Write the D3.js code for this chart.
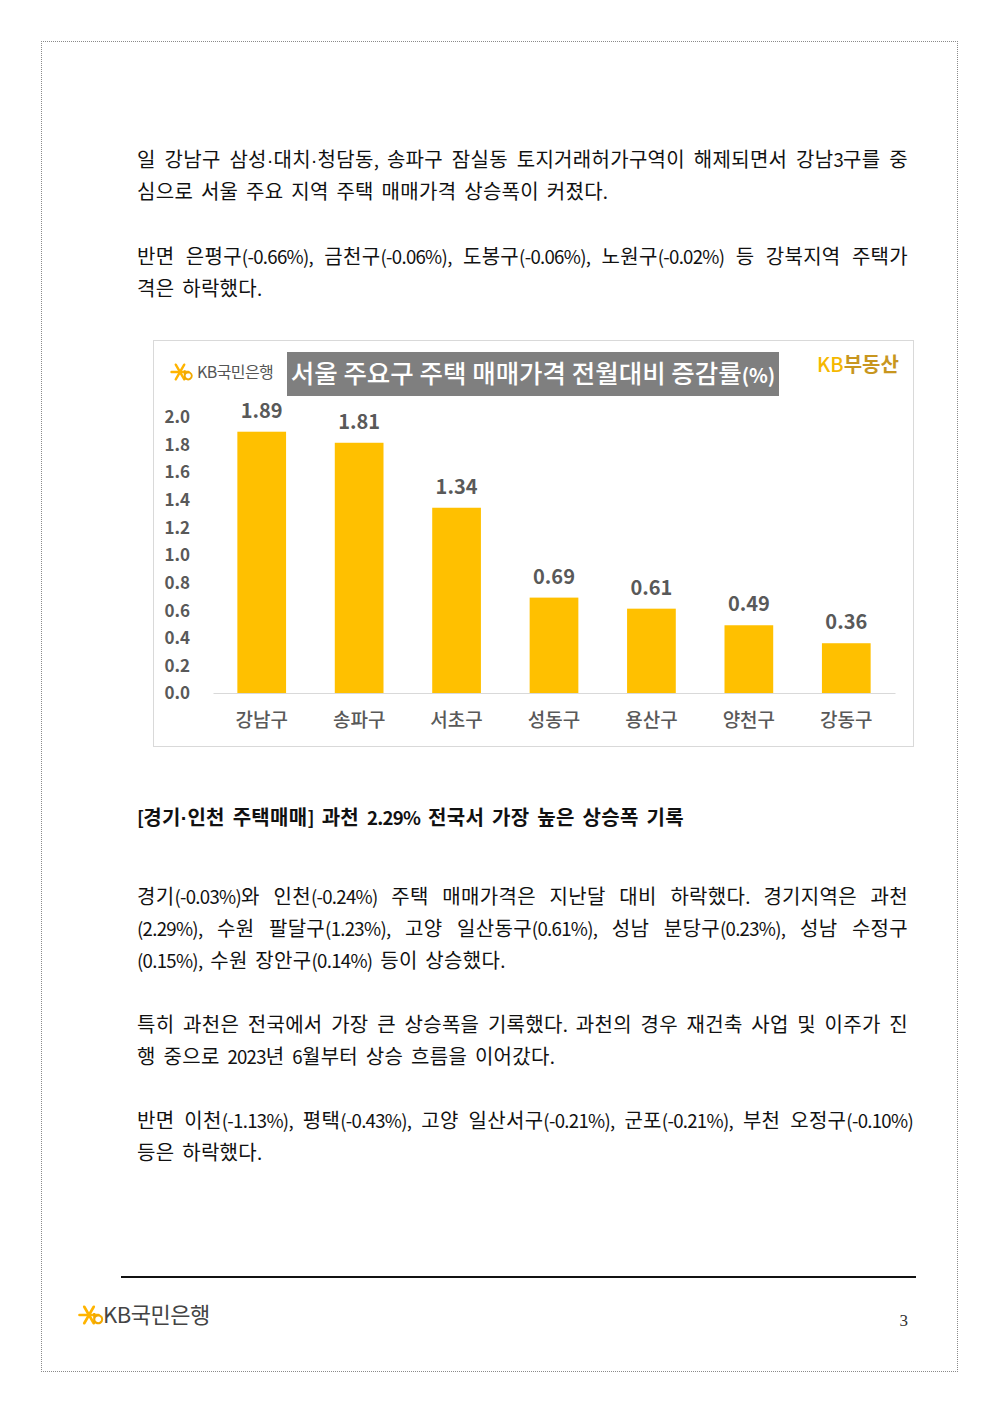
<!DOCTYPE html>
<html>
<head>
<meta charset="utf-8">
<script src="https://cdn.jsdelivr.net/npm/d3@7"></script>
<style>
  html, body { margin: 0; padding: 0; background: #fff; }
  #page { position: relative; width: 1000px; height: 1414px; overflow: hidden;
          font-family: "Noto Sans CJK KR", "Noto Sans", sans-serif; color: #111; }
  #border { position: absolute; left: 41px; top: 41px; width: 917px; height: 1331px;
            border: 1px dotted #8a8a8a; box-sizing: border-box; }
  .ln { position: absolute; left: 137px; height: 32px; line-height: 32px;
        font-size: 20px; white-space: nowrap; letter-spacing: 0.3px; word-spacing: 3px; }
  .h { font-weight: 700; }
  .lat { font-size: 0.93em; letter-spacing: -0.7px; }
  .md { font-family: "Liberation Sans", sans-serif; letter-spacing: 0; }
  svg { position: absolute; left: 0; top: 0; }
</style>
</head>
<body>
<div id="page">
  <div id="border"></div>
  <div id="text"></div>
  <svg id="chart" width="1000" height="1414"></svg>
</div>
<script>
// ---------- data ----------
const categories = ["강남구", "송파구", "서초구", "성동구", "용산구", "양천구", "강동구"];
const values = [1.89, 1.81, 1.34, 0.69, 0.61, 0.49, 0.36];
const tickValues = [0.0, 0.2, 0.4, 0.6, 0.8, 1.0, 1.2, 1.4, 1.6, 1.8, 2.0];
const chartTitle = "서울 주요구 주택 매매가격 전월대비 증감률";
const chartTitleUnit = "(%)";

// paragraph lines: [text, centerY, justify, bold, width]
const textLines = [
  ["일 강남구 삼성·대치·청담동, 송파구 잠실동 토지거래허가구역이 해제되면서 강남3구를 중", 159, true, false, 771],
  ["심으로 서울 주요 지역 주택 매매가격 상승폭이 커졌다.", 191, false, false, 771],
  ["반면 은평구(-0.66%), 금천구(-0.06%), 도봉구(-0.06%), 노원구(-0.02%) 등 강북지역 주택가", 256, true, false, 771],
  ["격은 하락했다.", 288, false, false, 771],
  ["[경기·인천 주택매매] 과천 2.29% 전국서 가장 높은 상승폭 기록", 817, false, true, 771],
  ["경기(-0.03%)와 인천(-0.24%) 주택 매매가격은 지난달 대비 하락했다. 경기지역은 과천", 896, true, false, 771],
  ["(2.29%), 수원 팔달구(1.23%), 고양 일산동구(0.61%), 성남 분당구(0.23%), 성남 수정구", 928, true, false, 771],
  ["(0.15%), 수원 장안구(0.14%) 등이 상승했다.", 960, false, false, 771],
  ["특히 과천은 전국에서 가장 큰 상승폭을 기록했다. 과천의 경우 재건축 사업 및 이주가 진", 1024, true, false, 771],
  ["행 중으로 2023년 6월부터 상승 흐름을 이어갔다.", 1056, false, false, 771],
  ["반면 이천(-1.13%), 평택(-0.43%), 고양 일산서구(-0.21%), 군포(-0.21%), 부천 오정구(-0.10%)", 1120, true, false, 776],
  ["등은 하락했다.", 1152, false, false, 771]
];

// ---------- text ----------
const markup = s => s.replace(/[!-~]+/g, m => '<span class="lat">' + m + '</span>')
                     .split("·").join('<span class="md">·</span>');
const lines = d3.select("#text").selectAll("div").data(textLines).join("div")
  .attr("class", d => "ln" + (d[3] ? " h" : ""))
  .style("top", d => (d[1] - 16) + "px")
  .html(d => "<span>" + markup(d[0]) + "</span>");
// manual justification: spread extra width over the spaces
lines.each(function(d) {
  if (!d[2]) return;
  const el = this;
  el.style.wordSpacing = "0px";
  const w = el.firstChild.getBoundingClientRect().width;
  const n = (d[0].match(/ /g) || []).length;
  el.style.wordSpacing = ((d[4] - w) / n) + "px";
});

// ---------- chart ----------
const svg = d3.select("#chart");
const grayText = "#595959";
const fontFam = '"Noto Sans CJK KR", "Noto Sans", sans-serif';

// chart frame
svg.append("rect").attr("x", 153.5).attr("y", 340.5).attr("width", 760).attr("height", 406)
  .attr("fill", "#fff").attr("stroke", "#d9d9d9").attr("stroke-width", 1);

const x = d3.scaleBand().domain(categories).range([213, 895]).paddingInner(0.5).paddingOuter(0.25);
const y = d3.scaleLinear().domain([0, 2]).range([693, 416.5]);

// y axis (labels only)
const yAxis = d3.axisLeft(y).tickValues(tickValues).tickFormat(d3.format(".1f")).tickSize(0).tickPadding(0);
const gy = svg.append("g").attr("transform", "translate(190,0)").call(yAxis);
gy.select(".domain").remove();
gy.selectAll("text").attr("font-family", fontFam).attr("font-size", 17).attr("font-weight", 700)
  .attr("fill", grayText).attr("dy", "0.35em");

// bars
svg.append("g").selectAll("rect").data(values).join("rect")
  .attr("x", (d, i) => x(categories[i]))
  .attr("y", d => y(d))
  .attr("width", x.bandwidth())
  .attr("height", d => y(0) - y(d))
  .attr("fill", "#FFC000");

// baseline / x axis
const xAxis = d3.axisBottom(x).tickSize(0).tickPadding(0);
const gx = svg.append("g").attr("transform", `translate(0,${y(0)})`).call(xAxis);
gx.select(".domain").attr("stroke", "#d9d9d9").attr("stroke-width", 1.2);
gx.selectAll("text").attr("font-family", fontFam).attr("font-size", 19).attr("font-weight", 500)
  .attr("fill", grayText).attr("dy", "34px");

// value labels
svg.append("g").selectAll("text").data(values).join("text")
  .attr("x", (d, i) => x(categories[i]) + x.bandwidth() / 2)
  .attr("y", d => y(d) - 14)
  .attr("text-anchor", "middle")
  .attr("font-family", fontFam).attr("font-size", 20).attr("font-weight", 700)
  .attr("fill", grayText)
  .text(d => d.toFixed(2));

// title box
svg.append("rect").attr("x", 287).attr("y", 352).attr("width", 492).attr("height", 44).attr("fill", "#7f7f7f");
const tt = svg.append("text").attr("x", 533).attr("y", 383).attr("text-anchor", "middle")
  .attr("font-family", fontFam).attr("fill", "#fff");
tt.append("tspan").attr("font-size", 25.5).attr("font-weight", 500).text(chartTitle);
tt.append("tspan").attr("font-size", 19.5).attr("font-weight", 700).text(chartTitleUnit);

// KB logo helper
function kbLogo(g, cx, cy, s, textColor, fontSize, tx, ls) {
  const arms = [0, 60, 120];
  arms.forEach(a => {
    const r = a * Math.PI / 180;
    g.append("line")
      .attr("x1", cx - Math.cos(r) * s).attr("y1", cy - Math.sin(r) * s)
      .attr("x2", cx + Math.cos(r) * s).attr("y2", cy + Math.sin(r) * s)
      .attr("stroke", "#FFB400").attr("stroke-width", s * 0.28).attr("stroke-linecap", "round");
  });
  g.append("path")
    .attr("d", `M${cx + s * 0.55},${cy - s * 0.2} L${cx + s * 0.55},${cy + s * 0.9} M${cx + s * 0.55},${cy + s * 0.45} a${s * 0.42},${s * 0.42} 0 1 1 0,0.01`)
    .attr("fill", "none").attr("stroke", "#F2A900").attr("stroke-width", s * 0.22);
  g.append("text").attr("x", tx).attr("y", cy + fontSize * 0.36)
    .attr("font-family", fontFam).attr("font-size", fontSize).attr("fill", textColor)
    .attr("letter-spacing", ls).text("KB국민은행");
}
kbLogo(svg.append("g"), 180, 372, 8.5, "#555", 16, 197, -0.6);

// KB부동산 logo
const kb2 = svg.append("text").attr("x", 817).attr("y", 372)
  .attr("font-family", fontFam).attr("font-size", 20).attr("font-weight", 500);
kb2.append("tspan").attr("fill", "#F5B800").text("KB");
kb2.append("tspan").attr("fill", "#C8961E").attr("font-weight", 700).text("부동산");

// footer
svg.append("line").attr("x1", 121).attr("x2", 916).attr("y1", 1277).attr("y2", 1277)
  .attr("stroke", "#111").attr("stroke-width", 2);
kbLogo(svg.append("g"), 89, 1315, 9.5, "#444", 22, 103, -0.5);
svg.append("text").attr("x", 908).attr("y", 1326).attr("text-anchor", "end")
  .attr("font-family", '"Liberation Serif", "DejaVu Serif", serif').attr("font-size", 17)
  .attr("fill", "#333").text("3");
</script>
</body>
</html>
